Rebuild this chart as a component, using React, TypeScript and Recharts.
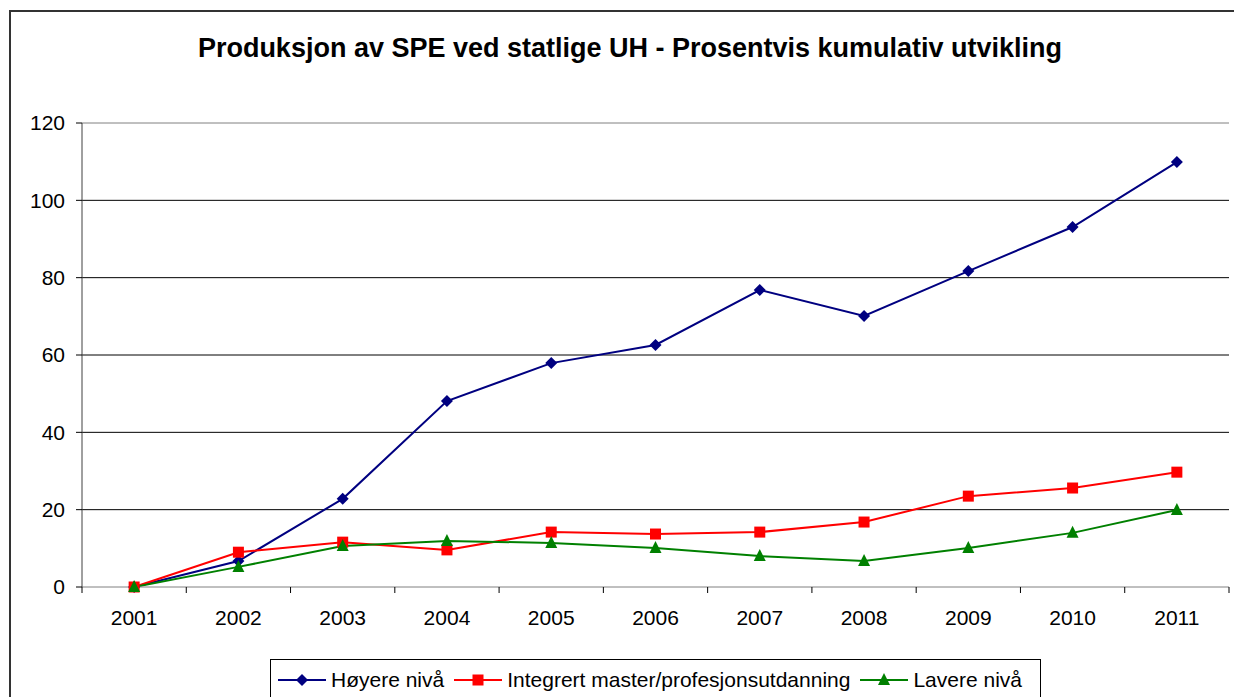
import { LineChart, Line, XAxis, YAxis, CartesianGrid, ReferenceLine, Legend } from "recharts";

const years = ["2001", "2002", "2003", "2004", "2005", "2006", "2007", "2008", "2009", "2010", "2011"];
const hoyere = [0, 6.7, 22.8, 48.1, 57.9, 62.6, 76.8, 70.1, 81.7, 93.1, 109.9];
const integrert = [0, 9.0, 11.6, 9.6, 14.2, 13.7, 14.2, 16.8, 23.5, 25.6, 29.7];
const lavere = [0, 5.2, 10.6, 11.9, 11.4, 10.1, 8.0, 6.7, 10.1, 14.0, 19.9];
const yTicks = [0, 20, 40, 60, 80, 100, 120];

const seriesNames = ["Høyere nivå", "Integrert master/profesjonsutdanning", "Lavere nivå"];
const COLORS = ["#000080", "#FF0000", "#008000"];

const data = years.map((year, i) => ({
  year,
  hoyere: hoyere[i],
  integrert: integrert[i],
  lavere: lavere[i],
}));

const W = 1234;
const H = 697;
const Y_AXIS_W = 82;
const RIGHT = 5;
const BAND = (W - Y_AXIS_W - RIGHT) / years.length;
const FONT = "'Liberation Sans', Arial, sans-serif";

function Marker({ kind, cx, cy, color }: { kind: number; cx: number; cy: number; color: string }) {
  if (kind === 0) {
    const r = 6;
    return <polygon points={`${cx},${cy - r} ${cx + r},${cy} ${cx},${cy + r} ${cx - r},${cy}`} fill={color} />;
  }
  if (kind === 1) {
    return <rect x={cx - 5.5} y={cy - 5.5} width={11} height={11} fill={color} />;
  }
  return <polygon points={`${cx},${cy - 7} ${cx + 6},${cy + 5} ${cx - 6},${cy + 5}`} fill={color} />;
}

const makeDot = (kind: number) => (props: any) => {
  const { cx, cy, index } = props;
  return <Marker key={`d${kind}-${index}`} kind={kind} cx={cx} cy={cy} color={COLORS[kind]} />;
};

function YearTick(props: any) {
  const { x, y, payload, index } = props;
  const axisY = y - 23;
  const half = BAND / 2;
  return (
    <g>
      <line x1={x - half} x2={x - half} y1={axisY} y2={axisY + 6} stroke="#000" />
      {index === years.length - 1 && (
        <line x1={x + half} x2={x + half} y1={axisY} y2={axisY + 6} stroke="#000" />
      )}
      <text x={x} y={y} dy="0.71em" textAnchor="middle" fontSize={21} fontFamily={FONT} fill="#000">
        {payload.value}
      </text>
    </g>
  );
}

function LegendBox() {
  return (
    <div
      style={{
        border: "1px solid #000",
        height: 60,
        boxSizing: "border-box",
        display: "flex",
        alignItems: "flex-start",
        paddingLeft: 7,
        paddingTop: 8,
        fontFamily: FONT,
        fontSize: 21,
        color: "#000",
        background: "#fff",
      }}
    >
      {seriesNames.map((name, i) => (
        <div key={name} style={{ display: "flex", alignItems: "center", marginRight: 10, height: 24 }}>
          <svg width={48} height={16} style={{ marginRight: 5 }}>
            <line x1={0} x2={48} y1={8} y2={8} stroke={COLORS[i]} strokeWidth={2} />
            <Marker kind={i} cx={24} cy={8} color={COLORS[i]} />
          </svg>
          <span style={{ whiteSpace: "nowrap" }}>{name}</span>
        </div>
      ))}
    </div>
  );
}

export default function App() {
  return (
    <div
      style={{
        position: "absolute",
        left: 0,
        top: 0,
        width: W,
        height: H,
        overflow: "hidden",
        background: "#fff",
      }}
    >
      <div
        style={{
          position: "absolute",
          left: 9,
          top: 10,
          width: 1240,
          height: 720,
          border: "2px solid #333",
          boxSizing: "border-box",
        }}
      />
      <div
        style={{
          position: "absolute",
          left: 0,
          top: 35,
          width: 1260,
          textAlign: "center",
          fontFamily: FONT,
          fontWeight: "bold",
          fontSize: 27,
          lineHeight: "27px",
          color: "#000",
        }}
      >
        Produksjon av SPE ved statlige UH - Prosentvis kumulativ utvikling
      </div>
      <div style={{ position: "absolute", left: 0, top: 0 }}>
        <LineChart width={W} height={H} data={data} margin={{ top: 123, right: RIGHT, bottom: 70, left: 0 }}>
          <CartesianGrid vertical={false} stroke="#000" horizontalValues={[20, 40, 60, 80, 100]} />
          <ReferenceLine y={120} stroke="#808080" />
          <XAxis
            dataKey="year"
            scale="band"
            interval={0}
            height={40}
            tickLine={false}
            tickSize={6}
            tickMargin={17}
            axisLine={{ stroke: "#808080" }}
            tick={<YearTick />}
          />
          <YAxis
            width={Y_AXIS_W}
            domain={[0, 120]}
            ticks={yTicks}
            interval={0}
            tickSize={6}
            tickMargin={11}
            axisLine={{ stroke: "#404040" }}
            tickLine={{ stroke: "#000" }}
            tick={{ fontSize: 21, fontFamily: FONT, fill: "#000" }}
          />
          <YAxis
            yAxisId="r"
            orientation="right"
            width={0}
            domain={[0, 120]}
            tick={false}
            tickLine={false}
            axisLine={{ stroke: "#808080" }}
          />
          <Legend
            layout="vertical"
            verticalAlign="middle"
            align="center"
            wrapperStyle={{ left: 270, top: 659, width: 771, height: 60 }}
            content={() => <LegendBox />}
          />
          <Line
            dataKey="hoyere"
            name={seriesNames[0]}
            stroke={COLORS[0]}
            strokeWidth={2}
            dot={makeDot(0)}
            isAnimationActive={false}
          />
          <Line
            dataKey="integrert"
            name={seriesNames[1]}
            stroke={COLORS[1]}
            strokeWidth={2}
            dot={makeDot(1)}
            isAnimationActive={false}
          />
          <Line
            dataKey="lavere"
            name={seriesNames[2]}
            stroke={COLORS[2]}
            strokeWidth={2}
            dot={makeDot(2)}
            isAnimationActive={false}
          />
        </LineChart>
      </div>
    </div>
  );
}
